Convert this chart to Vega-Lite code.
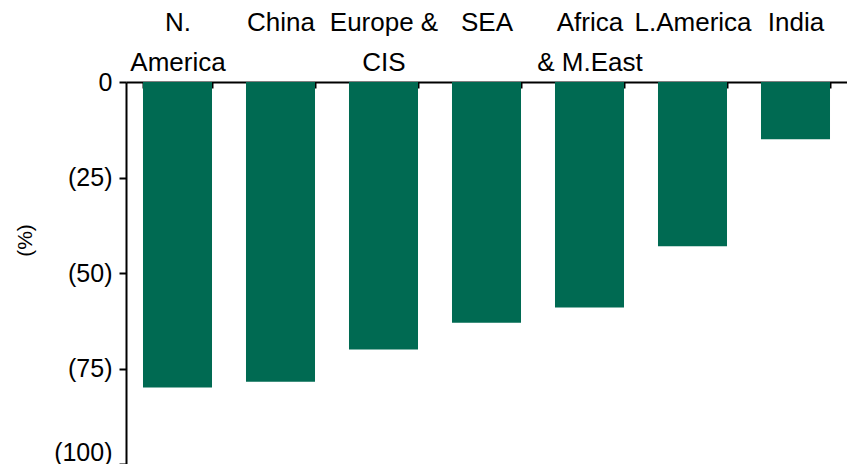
{
  "$schema": "https://vega.github.io/schema/vega-lite/v6.json",
  "width": 721,
  "height": 382,
  "autosize": {"type": "none"},
  "padding": {"left": 126, "top": 82, "right": 0, "bottom": 0},
  "background": "white",
  "config": {
    "view": {"stroke": null},
    "font": "Liberation Sans"
  },
  "data": {
    "values": [
      {"region": "N.|America", "value": -80},
      {"region": "China", "value": -78.5},
      {"region": "Europe &|CIS", "value": -70},
      {"region": "SEA", "value": -63},
      {"region": "Africa|& M.East", "value": -59},
      {"region": "L.America", "value": -43},
      {"region": "India", "value": -15}
    ]
  },
  "mark": {"type": "bar", "color": "#006a52"},
  "encoding": {
    "x": {
      "field": "region",
      "type": "nominal",
      "sort": null,
      "scale": {"paddingInner": 0.33, "paddingOuter": 0.165},
      "axis": {
        "orient": "top",
        "title": null,
        "labelAngle": 0,
        "labelExpr": "split(datum.label, '|')",
        "labelFontSize": 26,
        "labelColor": "black",
        "labelLineHeight": 40,
        "labelBaseline": "alphabetic",
        "labelPadding": 58,
        "labelOverlap": false,
        "domainColor": "black",
        "domainWidth": 2,
        "tickColor": "black",
        "tickWidth": 2,
        "tickSize": -6,
        "tickBand": "extent"
      }
    },
    "y": {
      "field": "value",
      "type": "quantitative",
      "scale": {"domain": [-100, 0], "nice": false},
      "axis": {
        "title": "(%)",
        "titleFontSize": 21,
        "titleFontWeight": "normal",
        "titleColor": "black",
        "titleX": -91,
        "titleY": 158,
        "values": [0, -25, -50, -75, -100],
        "labelExpr": "datum.value == 0 ? '0' : '(' + abs(datum.value) + ')'",
        "labelFontSize": 25,
        "labelColor": "black",
        "labelPadding": 7,
        "labelOverlap": false,
        "labelOffset": {"condition": {"test": "datum.value == -100", "value": -12}, "value": 0},
        "grid": false,
        "domainColor": "black",
        "domainWidth": 2,
        "tickColor": "black",
        "tickWidth": 2,
        "tickSize": 7
      }
    }
  }
}
